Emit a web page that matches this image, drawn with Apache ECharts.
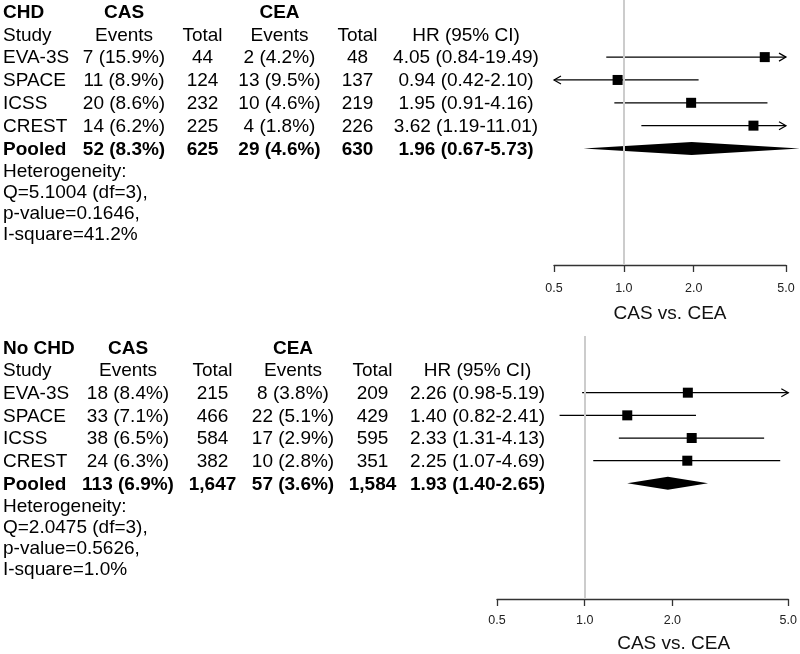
<!DOCTYPE html>
<html>
<head>
<meta charset="utf-8">
<script src="https://cdn.jsdelivr.net/npm/echarts@6/dist/echarts.min.js"></script>
<style>
  html, body { margin: 0; padding: 0; background: #fff; }
  #main { width: 800px; height: 654px; }
</style>
</head>
<body>
<div id="main"></div>
<script>
// ---- data ----
var studies = ['EVA-3S', 'SPACE', 'ICSS', 'CREST'];
var xTicks = [0.5, 1, 2, 5];

// CHD
var chdCasEvents = ['7 (15.9%)', '11 (8.9%)', '20 (8.6%)', '14 (6.2%)'];
var chdCasTotal = ['44', '124', '232', '225'];
var chdCeaEvents = ['2 (4.2%)', '13 (9.5%)', '10 (4.6%)', '4 (1.8%)'];
var chdCeaTotal = ['48', '137', '219', '226'];
var chdHr = [4.05, 0.94, 1.95, 3.62];
var chdLower = [0.84, 0.42, 0.91, 1.19];
var chdUpper = [19.49, 2.10, 4.16, 11.01];
var chdPooledText = ['52 (8.3%)', '625', '29 (4.6%)', '630'];
var chdPooledHr = [1.96, 0.67, 5.73]; // hr, lower, upper
var chdHet = ['Heterogeneity:', 'Q=5.1004 (df=3),', 'p-value=0.1646,', 'I-square=41.2%'];

// No CHD
var noChdCasEvents = ['18 (8.4%)', '33 (7.1%)', '38 (6.5%)', '24 (6.3%)'];
var noChdCasTotal = ['215', '466', '584', '382'];
var noChdCeaEvents = ['8 (3.8%)', '22 (5.1%)', '17 (2.9%)', '10 (2.8%)'];
var noChdCeaTotal = ['209', '429', '595', '351'];
var noChdHr = [2.26, 1.40, 2.33, 2.25];
var noChdLower = [0.98, 0.82, 1.31, 1.07];
var noChdUpper = [5.19, 2.41, 4.13, 4.69];
var noChdPooledText = ['113 (6.9%)', '1,647', '57 (3.6%)', '1,584'];
var noChdPooledHr = [1.93, 1.40, 2.65];
var noChdHet = ['Heterogeneity:', 'Q=2.0475 (df=3),', 'p-value=0.5626,', 'I-square=1.0%'];

// ---- layout ----
var XMIN = 0.5, XMAX = 5;
var FONT = '"Liberation Sans", Arial, Helvetica, sans-serif';

var panels = [
  {
    title: 'CHD',
    casEvents: chdCasEvents, casTotal: chdCasTotal,
    ceaEvents: chdCeaEvents, ceaTotal: chdCeaTotal,
    hr: chdHr, lower: chdLower, upper: chdUpper,
    pooledText: chdPooledText, pooledHr: chdPooledHr, het: chdHet,
    grid: { left: 554, width: 232, top: 0, height: 265 },
    cols: [124, 202.5, 279.5, 357.5, 466],
    labelMargin: 17, nameGap: 39, namePad: 0
  },
  {
    title: 'No CHD',
    casEvents: noChdCasEvents, casTotal: noChdCasTotal,
    ceaEvents: noChdCeaEvents, ceaTotal: noChdCeaTotal,
    hr: noChdHr, lower: noChdLower, upper: noChdUpper,
    pooledText: noChdPooledText, pooledHr: noChdPooledHr, het: noChdHet,
    grid: { left: 497, width: 294, top: 336, height: 267 },
    cols: [128, 212.5, 293, 372.5, 477.5],
    labelMargin: 15, nameGap: 35, namePad: 62
  }
];

function fmtHr(h, l, u) {
  return h.toFixed(2) + ' (' + l.toFixed(2) + '-' + u.toFixed(2) + ')';
}

// rows of table text for one panel, indexed by row number
function tableRows(p) {
  var c = p.cols;
  var rows = [];
  rows.push([
    { t: p.title, x: 3, align: 'left', bold: true },
    { t: 'CAS', x: c[0], bold: true },
    { t: 'CEA', x: c[2], bold: true }
  ]);
  rows.push([
    { t: 'Study', x: 3, align: 'left' },
    { t: 'Events', x: c[0] }, { t: 'Total', x: c[1] },
    { t: 'Events', x: c[2] }, { t: 'Total', x: c[3] },
    { t: 'HR (95% CI)', x: c[4] }
  ]);
  for (var i = 0; i < studies.length; i++) {
    rows.push([
      { t: studies[i], x: 3, align: 'left' },
      { t: p.casEvents[i], x: c[0] }, { t: p.casTotal[i], x: c[1] },
      { t: p.ceaEvents[i], x: c[2] }, { t: p.ceaTotal[i], x: c[3] },
      { t: fmtHr(p.hr[i], p.lower[i], p.upper[i]), x: c[4] }
    ]);
  }
  rows.push([
    { t: 'Pooled', x: 3, align: 'left', bold: true },
    { t: p.pooledText[0], x: c[0], bold: true }, { t: p.pooledText[1], x: c[1], bold: true },
    { t: p.pooledText[2], x: c[2], bold: true }, { t: p.pooledText[3], x: c[3], bold: true },
    { t: fmtHr(p.pooledHr[0], p.pooledHr[1], p.pooledHr[2]), x: c[4], bold: true }
  ]);
  return rows;
}

function arrowHead(pt, dir) {
  return {
    type: 'polyline',
    shape: { points: [[pt[0] - dir * 7, pt[1] - 4], [pt[0], pt[1]], [pt[0] - dir * 7, pt[1] + 4]] },
    style: { stroke: '#000', fill: null, lineWidth: 1.2 }
  };
}

function renderCi(params, api) {
  var hr = api.value(0), row = api.value(1), lo = api.value(2), hi = api.value(3);
  var a = api.coord([Math.max(lo, XMIN), row]);
  var b = api.coord([Math.min(hi, XMAX), row]);
  var c = api.coord([hr, row]);
  var kids = [{
    type: 'line',
    shape: { x1: a[0], y1: a[1], x2: b[0], y2: b[1] },
    style: { stroke: '#000', lineWidth: 1.2 }
  }];
  if (hi > XMAX) kids.push(arrowHead(b, 1));
  if (lo < XMIN) kids.push(arrowHead(a, -1));
  kids.push({
    type: 'rect',
    shape: { x: c[0] - 5, y: c[1] - 5, width: 10, height: 10 },
    style: { fill: '#000' }
  });
  return { type: 'group', children: kids };
}

function renderDiamond(params, api) {
  var hr = api.value(0), row = api.value(1), lo = api.value(2), hi = api.value(3);
  var l = api.coord([lo, row]), m = api.coord([hr, row]), r = api.coord([hi, row]);
  return {
    type: 'polygon',
    shape: { points: [[l[0], l[1]], [m[0], m[1] - 6.5], [r[0], r[1]], [m[0], m[1] + 6.5]] },
    style: { fill: '#000' }
  };
}

var grids = [], xAxes = [], yAxes = [], series = [];

panels.forEach(function (p, k) {
  grids.push(p.grid);
  xAxes.push({
    type: 'log', logBase: 10, gridIndex: k, min: XMIN, max: XMAX, position: 'bottom',
    name: 'CAS vs. CEA', nameLocation: 'middle', nameGap: p.nameGap,
    nameTextStyle: { fontFamily: FONT, fontSize: 19, color: '#111', padding: [0, 0, 0, p.namePad] },
    axisLine: { onZero: false, lineStyle: { color: '#333', width: 1.3 } },
    axisTick: { inside: false, length: 7, lineStyle: { color: '#333', width: 1.3 }, customValues: xTicks },
    axisLabel: {
      customValues: xTicks, margin: p.labelMargin, fontFamily: FONT, fontSize: 12.5, color: '#222',
      formatter: function (v) { return Number(v).toFixed(1); }
    },
    splitLine: { show: false }, minorTick: { show: false }
  });
  yAxes.push({ type: 'value', gridIndex: k, inverse: true, min: -0.5, max: 11.1, show: false });

  // reference line at HR = 1
  series.push({
    type: 'line', xAxisIndex: k, yAxisIndex: k, data: [], z: 1,
    markLine: {
      silent: true, symbol: 'none', label: { show: false }, animation: false,
      lineStyle: { color: '#cccccc', width: 2, type: 'solid' },
      data: [{ xAxis: 1 }]
    }
  });

  var ciData = studies.map(function (s, i) { return [p.hr[i], i + 2, p.lower[i], p.upper[i]]; });
  series.push({
    type: 'custom', xAxisIndex: k, yAxisIndex: k, z: 3, clip: false,
    renderItem: renderCi, encode: { x: 0, y: 1 }, data: ciData
  });
  series.push({
    type: 'custom', xAxisIndex: k, yAxisIndex: k, z: 3, clip: false,
    renderItem: renderDiamond, encode: { x: 0, y: 1 },
    data: [[p.pooledHr[0], 6, p.pooledHr[1], p.pooledHr[2]]]
  });

  // table text, placed on the same row scale
  var rows = tableRows(p);
  var het = p.het;
  series.push({
    type: 'custom', xAxisIndex: k, yAxisIndex: k, z: 4, clip: false, silent: true,
    encode: { x: 0, y: 1 },
    data: rows.map(function (r, i) { return [1, i]; }).concat([[1, rows.length]]),
    renderItem: function (params, api) {
      var row = api.value(1);
      var y = api.coord([1, row])[1];
      if (row >= rows.length) {
        return {
          type: 'text', x: 3, y: y - 10,
          style: {
            text: het.join('\n'), fill: '#000', font: '19px ' + FONT,
            lineHeight: 21, align: 'left', verticalAlign: 'top'
          }
        };
      }
      return {
        type: 'group',
        children: rows[row].map(function (it) {
          return {
            type: 'text', x: it.x, y: y + 1,
            style: {
              text: it.t, fill: '#000',
              font: (it.bold ? 'bold ' : '') + '19px ' + FONT,
              align: it.align || 'center', verticalAlign: 'middle'
            }
          };
        })
      };
    }
  });
});

var chart = echarts.init(document.getElementById('main'));
chart.setOption({
  animation: false,
  backgroundColor: '#fff',
  grid: grids,
  xAxis: xAxes,
  yAxis: yAxes,
  series: series
});
</script>
</body>
</html>
